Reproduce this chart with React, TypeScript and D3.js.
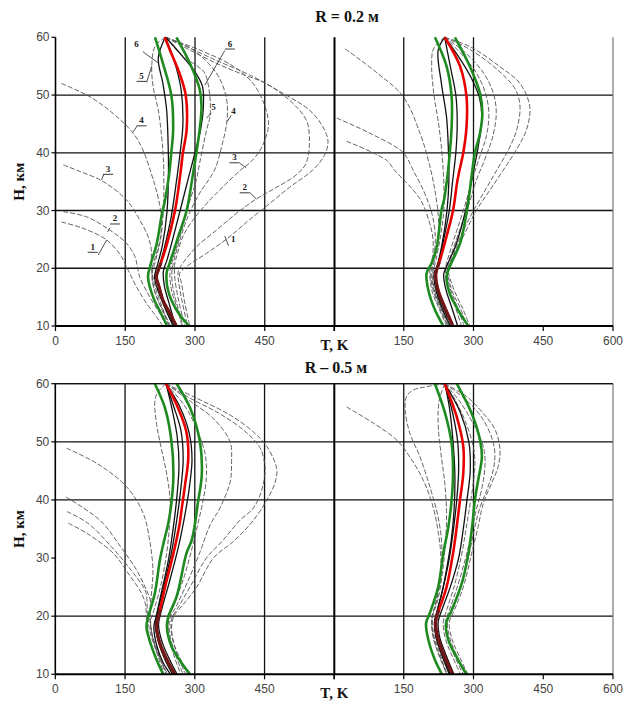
import React from "react";
import * as d3 from "d3";

type P = [number, number]; // [T (K), H (km)]

const xTicks = [0, 150, 300, 450, 600];
const yTicks = [10, 20, 30, 40, 50, 60];
const leftTickLabels = ["0", "150", "300", "450"];
const rightTickLabels = ["150", "300", "450", "600"];
const topHGrid = [20, 30, 40, 50];
const bottomHGrid = [20, 40, 50, 60];
const leftVGrid = [150, 300, 450];
const rightVGrid = [150, 300];
const titles = ["R = 0.2 м", "R – 0.5 м"];

// ---------- top-left (R = 0.2, case 1)
const tlRed: P[] = [[235,60],[246,57.8],[267,53.7],[280,50],[282,44],[274,40],[268,36],[257,30],[239,24],[224,20.3],[217,18.5],[222,17],[231,14.5],[246,12.2],[260,10]];
const tlGreenL: P[] = [[214,60],[231,55.5],[249,50],[253,44],[249,40],[244,36],[236,32],[228,29],[217,24],[204,20.5],[199,18.5],[210,15],[228,12],[240,10]];
const tlGreenR: P[] = [[260,60],[289,55.5],[310,51],[314,48],[310,44],[303,40],[295,36],[282,30],[264,25.5],[246,21],[239,19.2],[242,16.2],[260,12.8],[287,10]];
const tlBlack6L: P[] = [[236,60],[221,56.4],[231,52],[239,47.4],[242,42],[243,37],[240,30],[230,24],[219,20.5],[213,18.5],[221,16],[236,13],[253,10]];
const tlBlack6R: P[] = [[237,60],[270,57],[300,54],[316,51.5],[318,48],[312,44],[300,40],[287,36],[268,30],[252,25],[240,21.5],[232,19.5],[234,17],[244,14],[258,10]];
const tlBlackM: P[] = [[236,60],[255,56],[270,51],[274,45],[268,40],[260,35],[249,29],[234,23.5],[222,20],[218,18.5],[226,16],[239,13],[255,10]];
const tl1L: P[] = [[13,28],[60,26.9],[110,24.9],[142,22],[156,19.7],[174,16.8],[196,13.9],[217,11.6],[231,10]];
const tl2L: P[] = [[17,29.8],[67,28.9],[117,26.6],[153,24.3],[171,22],[176,20.3],[181,18.5],[203,15],[224,12.2],[239,10]];
const tl3L: P[] = [[17,37.9],[45,37],[103,35],[153,31.8],[181,28.4],[199,25.5],[206,23.2],[206,20.5],[212,17.5],[226,14],[245,10]];
const tl4L: P[] = [[13,52],[74,49.7],[124,46.8],[167,43.4],[188,40.5],[206,36.4],[215,34],[224,31],[228,28],[225,25],[215,22],[208,20],[208,18],[218,15],[235,12],[248,10]];
const tl5L: P[] = [[236,60],[214,58.4],[207,55],[210,51.4],[221,47.4],[228,43],[232,39],[233,35],[232,30],[226,25],[214,21],[208,19],[213,16],[228,13],[244,10]];
const tl1R: P[] = [[237,60],[274,58.7],[346,56],[417,53.5],[489,50.3],[546,47.4],[575,44.5],[586,42],[578,39.5],[553,37],[503,34],[453,30.7],[417,28.4],[375,25.5],[325,22.6],[282,20.3],[267,19.1],[271,17.4],[278,14],[289,10]];
const tl2R: P[] = [[237,60],[272,58.5],[346,55.5],[405,53.5],[453,52],[510,48.6],[539,45.7],[546,42.8],[539,38.2],[515,36],[475,34],[432,32],[389,29.5],[346,26.6],[303,23.7],[274,20.9],[264,19.5],[265,17.5],[273,14],[284,10]];
const tl3R: P[] = [[237,60],[310,57.8],[382,55],[425,52],[446,49],[457,46],[457,44],[439,40.3],[417,38.2],[398,37],[360,34.1],[325,31.2],[296,28.4],[274,25.5],[262,22.5],[256,20.5],[257,18],[266,14],[278,10]];
const tl4R: P[] = [[237,60],[296,57.8],[346,53.8],[367,49.7],[369,45.7],[357,41],[342,37],[310,33],[285,29],[268,25],[255,21.5],[250,19],[254,16],[264,13],[274,10]];
const tl5R: P[] = [[237,60],[270,57],[305,55],[321,53.8],[332,49.7],[332,46.2],[325,44],[310,38.2],[302,35],[289,31.7],[274,27.3],[262,24],[250,21],[246,19],[250,16],[262,13],[272,10]];

// curve-number labels of the top-left panel: text, label position, underline, leader
const tlLabelText = ["6", "5", "4", "3", "2", "1", "6", "5", "4", "3", "2", "1"];
const tlLabelPos: P[] = [[174,58.4],[185,52.8],[185,45.1],[113,36.7],[128,28.1],[80,23.2],[375,58.4],[340,47.4],[383,46.8],[385,38.7],[407,33.5],[382,24.6]];
const tlLabelUnder = [false, true, true, true, true, true, true, false, false, true, true, false];
const tlLeaderFrom: P[] = [[188,57.5],[196,52.2],[175,44.6],[104,36.3],[117,27.0],[92,22.3],[364,57.7],[335,46.9],[378,46.5],[396,38.2],[418,33.1],[364,25.6]];
const tlLeaderTo: P[] = [[220,55.6],[207,55],[167,43.6],[99,35.3],[112,26.3],[110,24.9],[321,51.7],[325,46],[369,45.4],[410,37.4],[432,32],[372,23.9]];

// ---------- top-right (R = 0.2, case 2)
const trRed: P[] = [[238,60],[271,55],[285,49.7],[285,44.5],[278,40],[270,37],[265,35],[256,30],[242,25.5],[228,21.4],[219,19],[224,16.2],[238,13.3],[256,10]];
const trGreenL: P[] = [[217,60],[242,55],[253,49.7],[253,44.5],[249,40],[244,36],[237,32],[231,30],[221,23.7],[210,20.9],[199,19.1],[203,16.2],[217,12.8],[235,10]];
const trGreenR: P[] = [[260,60],[292,55],[314,50.3],[319,46.8],[314,43.4],[303,40],[296,36],[286,30],[271,24.3],[249,20.3],[242,18.5],[249,15.6],[271,12.2],[289,10]];
const trBlackA: P[] = [[238,60],[224,57.8],[231,52],[242,46.2],[246,40.5],[247,35],[243,30],[232,24],[222,20.5],[215,19],[220,16],[233,13],[250,10]];
const trBlackB: P[] = [[238,60],[265,57],[295,53],[313,49.5],[318,46],[310,41],[298,36],[283,30],[262,24],[243,20.5],[236,19],[240,16.5],[252,13.5],[266,10]];
const trBlackC: P[] = [[238,60],[250,55],[262,50],[265,45],[262,40],[255,35],[248,30],[236,25],[225,21],[218,19],[222,16],[236,13],[254,10]];
const trDash0: P[] = [[238,60],[214,58],[210,55],[215,50],[225,45],[232,40],[236,35],[236,30],[228,25],[218,21],[212,19],[217,16],[231,13],[248,10]];
const trDashLA: P[] = [[24,58],[90,54],[149,49.7],[185,43.4],[205,38],[218,33],[225,28],[222,24],[215,21],[210,19],[216,16],[230,13],[246,10]];
const trDashLB: P[] = [[6,46],[77,43.4],[149,40],[170,37],[195,33],[212,29],[218,25],[214,21.5],[208,19],[214,16],[228,13],[244,10]];
const trDashLC: P[] = [[27,42],[113,38.7],[130,37],[185,32],[205,28],[213,25],[212,22],[206,19.5],[211,16],[226,13],[242,10]];
const trDashRA: P[] = [[238,60],[292,58.4],[357,54.9],[400,52],[421,48],[414,44],[392,40.5],[364,37],[335,33.5],[306,30],[278,25.5],[256,22],[246,19.8],[256,16.7],[278,12.8],[292,10]];
const trDashRB: P[] = [[238,60],[290,58],[350,54.5],[390,51],[400,48],[393,44],[375,40.5],[350,37],[325,33.5],[300,30],[275,26],[255,22],[245,20],[252,16.5],[272,13],[286,10]];
const trDashRC: P[] = [[238,60],[280,57.5],[320,54],[342,50.5],[349,47],[342,43],[325,39],[305,35],[290,31],[272,27],[255,23],[243,20],[248,17],[264,13.5],[280,10]];
const trDashRD: P[] = [[238,60],[275,57],[305,54],[325,50.5],[333,47],[328,43],[312,39],[296,35],[282,31],[266,27],[250,23],[240,20],[244,17],[258,14],[274,10]];

// ---------- bottom-left (R = 0.5, case 1)
const blRed: P[] = [[238,60],[264,55.8],[282,51.7],[286,47.2],[279,42.6],[272,38.6],[267,35.7],[254,30.8],[236,25],[225,21],[218,18.2],[225,15.3],[240,12.5],[257,10]];
const blGreenL: P[] = [[214,60],[236,55.8],[250,50],[254,44.3],[250,39.7],[243,36],[234,33],[225,29.7],[214,23.9],[200,19.9],[196,18.2],[207,14.8],[221,11.9],[232,10]];
const blGreenR: P[] = [[261,60],[290,55.8],[311,50],[315,44.3],[307,39.7],[300,35.7],[293,33],[282,30.8],[261,23.4],[243,19.9],[240,18.2],[250,14.8],[272,11.9],[290,10]];
const blBlackA: P[] = [[238,60],[255,56],[270,52],[275,47],[270,42],[262,37],[250,31],[233,25],[221,21],[215,18.5],[222,15.5],[236,12.5],[252,10]];
const blBlackB: P[] = [[238,60],[268,56],[288,51.5],[294,47],[288,42],[280,38],[265,32],[244,25.5],[230,21.5],[222,18.5],[230,15.5],[246,12.5],[262,10]];
const blBlackC: P[] = [[238,60],[250,56],[262,51],[266,46],[262,41],[255,36],[244,30],[228,24],[217,20],[212,18.2],[218,15],[232,12],[248,10]];
const blDash0: P[] = [[238,60],[220,58.5],[214,56.9],[218,53],[225,50],[240,44.3],[247,39.7],[245,35],[238,30],[226,25],[212,21],[205,19],[212,15.5],[226,12.5],[242,10]];
const blDashL1: P[] = [[24,48.9],[89,46.3],[153,42.3],[189,37.7],[203,33],[210,28],[208,25],[205,22],[204,19.5],[210,16],[224,13],[240,10]];
const blDashL2: P[] = [[23,40.5],[96,36.5],[140,32],[175,27.9],[196,24.5],[204,22.8],[203,20],[208,17],[222,13.5],[238,10]];
const blDashL3: P[] = [[25,38],[70,36],[120,32],[168,27.4],[193,24.5],[197,23],[198,20.5],[203,17.5],[217,14],[234,10]];
const blDashL4: P[] = [[28,36],[67,34.3],[125,30.8],[160,27],[185,24],[194,22],[196,19.5],[201,16.5],[215,13],[232,10]];
const blDashRA: P[] = [[238,60],[304,57.5],[376,54.6],[426,51.7],[455,49.2],[476,45.4],[473,43.1],[455,40],[426,36.5],[385,33],[340,30],[304,25],[275,22],[255,20],[250,18],[256,15],[270,12.5],[285,10]];
const blDashRB: P[] = [[238,60],[290,57.5],[350,55],[405,52],[440,49],[451,45.5],[445,42],[426,38.6],[397,36.5],[360,33],[325,30],[293,25.5],[268,22],[250,19.5],[250,17],[262,13.5],[280,10]];
const blDashRC: P[] = [[238,60],[290,57],[340,54],[376,50],[379,46.6],[376,43.1],[354,38.6],[333,35.7],[311,31],[285,26],[262,22],[246,19.5],[246,17],[258,13.5],[275,10]];
const blDashRD: P[] = [[238,60],[280,56],[305,52],[322,48],[325,44],[318,40],[307,36],[295,32],[278,27],[258,22.5],[244,19.5],[243,17],[254,13.5],[270,10]];

// ---------- bottom-right (R = 0.5, case 2)
const brRed: P[] = [[238,60],[264,54.3],[278,49.2],[278,44.6],[271,40],[264,35.4],[256,30.8],[242,25],[228,21.6],[219,19.3],[221,17],[235,13.6],[255,10]];
const brGreenL: P[] = [[217,60],[239,54.9],[253,49.7],[256,44.6],[253,40],[246,35.4],[235,30.8],[224,25],[206,20.5],[198,18.8],[203,15.9],[217,12.5],[232,10]];
const brGreenR: P[] = [[264,60],[296,54.9],[314,50.3],[318,47.4],[310,43.4],[303,40],[297,35.4],[289,30.8],[275,25.7],[253,21],[241,18.8],[246,15.9],[267,12.5],[285,10]];
const brBlackA: P[] = [[238,60],[255,55],[266,50],[268,45],[264,40],[257,35],[248,30],[235,25],[224,21.5],[217,19],[220,16.5],[233,13.5],[250,10]];
const brBlackB: P[] = [[238,60],[272,55],[290,50],[293,45],[286,40],[278,35],[268,30],[250,25],[234,21.5],[224,19],[227,16.5],[240,13.5],[258,10]];
const brBlackC: P[] = [[238,60],[248,56],[256,50],[260,44],[258,38],[252,33],[242,28],[232,24],[222,21],[216,19],[219,16.5],[231,13.5],[248,10]];
const brDash0: P[] = [[238,60],[226,57],[224,53],[230,48],[238,43],[242,38],[240,33],[234,28],[224,23],[212,20],[210,18.5],[214,16],[227,13],[243,10]];
const brDashFlat: P[] = [[240,60],[200,59.5],[170,58.9],[156,57.8],[153,55.5],[163,51.5],[185,47.4],[206,42.3],[224,37],[232,32],[230,27],[220,22.5],[212,20],[214,17],[226,14],[242,10]];
const brDashL: P[] = [[27,56],[85,53.2],[135,50.3],[163,47.4],[192,43.4],[213,38.8],[225,34],[230,30],[228,26],[218,22],[210,19.5],[214,16.5],[228,13],[244,10]];
const brDashRA: P[] = [[238,60],[285,57.8],[321,54.9],[347,52],[357,48.6],[353,45.7],[339,42.9],[321,39.4],[310,35.4],[296,30.8],[278,25],[256,20.5],[248,19],[254,16],[270,13],[288,10]];
const brDashRB: P[] = [[238,60],[280,57.5],[315,54.5],[338,51],[346,48],[342,45],[330,42],[313,38.5],[302,35],[290,30.5],[272,25],[252,20.5],[244,19],[250,16],[265,13],[282,10]];
const brDashRC: P[] = [[238,60],[270,57],[300,53],[320,49.5],[325,46.5],[318,42],[305,38],[295,34],[283,30],[265,25],[248,21],[240,19],[246,16],[260,13],[278,10]];
const brDashRD: P[] = [[238,60],[262,57],[285,53],[300,49],[303,46],[298,42],[290,38],[282,34],[273,30],[258,25],[242,21],[235,19],[240,16],[255,13],[272,10]];

type PanelCfg = {
  key: string; x0: number; x1: number; yTop: number; yBot: number;
  hGrid: number[]; vGrid: number[]; side: "left" | "right"; topBorder: boolean;
  red: P[]; greens: P[][]; blacks: P[][]; dashes: P[][];
};

const panels: PanelCfg[] = [
  { key: "tl", x0: 55.5, x1: 334.5, yTop: 37.3, yBot: 326, hGrid: topHGrid, vGrid: leftVGrid, side: "left", topBorder: false,
    red: tlRed, greens: [tlGreenL, tlGreenR], blacks: [tlBlack6L, tlBlack6R, tlBlackM],
    dashes: [tl1L, tl2L, tl3L, tl4L, tl5L, tl1R, tl2R, tl3R, tl4R, tl5R] },
  { key: "tr", x0: 334, x1: 613, yTop: 37.3, yBot: 326, hGrid: topHGrid, vGrid: rightVGrid, side: "right", topBorder: false,
    red: trRed, greens: [trGreenL, trGreenR], blacks: [trBlackA, trBlackB, trBlackC],
    dashes: [trDash0, trDashLA, trDashLB, trDashLC, trDashRA, trDashRB, trDashRC, trDashRD] },
  { key: "bl", x0: 55.3, x1: 334.3, yTop: 383.7, yBot: 674.3, hGrid: bottomHGrid, vGrid: leftVGrid, side: "left", topBorder: true,
    red: blRed, greens: [blGreenL, blGreenR], blacks: [blBlackA, blBlackB, blBlackC],
    dashes: [blDash0, blDashL1, blDashL2, blDashL3, blDashL4, blDashRA, blDashRB, blDashRC, blDashRD] },
  { key: "br", x0: 334, x1: 613, yTop: 383.7, yBot: 674.3, hGrid: bottomHGrid, vGrid: rightVGrid, side: "right", topBorder: true,
    red: brRed, greens: [brGreenL, brGreenR], blacks: [brBlackA, brBlackB, brBlackC],
    dashes: [brDash0, brDashFlat, brDashL, brDashRA, brDashRB, brDashRC, brDashRD] },
];

const SERIF = "'Liberation Serif', 'DejaVu Serif', serif";
const SANS = "'Liberation Sans', Arial, sans-serif";

function Panel({ cfg }: { cfg: PanelCfg }) {
  const x = d3.scaleLinear().domain([0, 600]).range([cfg.x0, cfg.x1]);
  const y = d3.scaleLinear().domain([10, 60]).range([cfg.yBot, cfg.yTop]);
  const line = d3.line<P>().x((d) => x(d[0])).y((d) => y(d[1])).curve(d3.curveCatmullRom.alpha(0.5));
  const clipId = `low-${cfg.key}`;
  const labels = cfg.side === "left" ? leftTickLabels : rightTickLabels;
  const labelTicks = cfg.side === "left" ? xTicks.slice(0, 4) : xTicks.slice(1);
  return (
    <g>
      <defs>
        <clipPath id={clipId}>
          <rect x={cfg.x0} y={y(21)} width={cfg.x1 - cfg.x0} height={cfg.yBot - y(21)} />
        </clipPath>
      </defs>
      {/* grid */}
      {cfg.hGrid.map((h) => (
        <line key={"h" + h} x1={cfg.x0} x2={cfg.x1} y1={y(h)} y2={y(h)} stroke="#111" strokeWidth={1.3} />
      ))}
      {cfg.vGrid.map((t) => (
        <line key={"v" + t} x1={x(t)} x2={x(t)} y1={cfg.yTop} y2={cfg.yBot} stroke="#111" strokeWidth={1.3} />
      ))}
      {cfg.side === "left" ? (
        <line x1={x(600)} x2={x(600)} y1={cfg.yTop} y2={cfg.yBot} stroke="#000" strokeWidth={2} />
      ) : (
        <line x1={x(600)} x2={x(600)} y1={cfg.yTop} y2={cfg.yBot} stroke="#777" strokeWidth={1.2} />
      )}
      {/* curves */}
      {cfg.dashes.map((c, i) => (
        <path key={"d" + i} d={line(c) || ""} fill="none" stroke="#555" strokeWidth={0.9} strokeDasharray="5,2" />
      ))}
      {cfg.blacks.map((c, i) => (
        <path key={"b" + i} d={line(c) || ""} fill="none" stroke="#111" strokeWidth={1.3} />
      ))}
      {cfg.greens.map((c, i) => (
        <path key={"g" + i} d={line(c) || ""} fill="none" stroke="#1f8a22" strokeWidth={2.6} />
      ))}
      <path d={line(cfg.red) || ""} fill="none" stroke="#e80000" strokeWidth={2.6} />
      <path d={line(cfg.red) || ""} fill="none" stroke="#701818" strokeWidth={3} clipPath={`url(#${clipId})`} />
      {/* x axis */}
      <line x1={cfg.x0} x2={cfg.x1} y1={cfg.yBot} y2={cfg.yBot} stroke="#000" strokeWidth={2} />
      {xTicks.map((t) => (
        <line key={"xt" + t} x1={x(t)} x2={x(t)} y1={cfg.yBot} y2={cfg.yBot + 5} stroke="#000" strokeWidth={1.2} />
      ))}
      {labelTicks.map((t, i) => (
        <text key={"xl" + t} x={x(t)} y={cfg.yBot + 19} textAnchor="middle" fontFamily={SANS} fontSize={12} fill="#444">
          {labels[i]}
        </text>
      ))}
      <text x={x(600)} y={cfg.yBot + 24} textAnchor="middle" fontFamily={SERIF} fontWeight="bold" fontSize={15} fill="#111">
        {cfg.side === "left" ? "T, K" : ""}
      </text>
      {/* y axis */}
      {cfg.side === "left" && (
        <g>
          <line x1={cfg.x0} x2={cfg.x0} y1={cfg.yTop} y2={cfg.yBot} stroke="#000" strokeWidth={1.6} />
          {yTicks.map((h) => (
            <g key={"yt" + h}>
              <line x1={cfg.x0 - 4} x2={cfg.x0} y1={y(h)} y2={y(h)} stroke="#000" strokeWidth={1.2} />
              <text x={cfg.x0 - 6} y={y(h) + 4} textAnchor="end" fontFamily={SANS} fontSize={12} fill="#444">
                {h}
              </text>
            </g>
          ))}
          <text
            transform={`translate(${24},${(cfg.yTop + cfg.yBot) / 2}) rotate(-90)`}
            textAnchor="middle" fontFamily={SERIF} fontWeight="bold" fontSize={15} fill="#111"
          >
            H, км
          </text>
        </g>
      )}
      {cfg.topBorder && (
        <line x1={cfg.x0} x2={cfg.x1} y1={cfg.yTop} y2={cfg.yTop} stroke="#111" strokeWidth={1.3} />
      )}
      {cfg.key === "tl" && (
        <g>
          {tlLabelText.map((t, i) => {
            const lx = x(tlLabelPos[i][0]);
            const ly = y(tlLabelPos[i][1]);
            return (
              <g key={"lab" + i}>
                <text x={lx} y={ly} textAnchor="middle" fontFamily={SERIF} fontWeight="bold" fontSize={9} fill="#222">
                  {t}
                </text>
                {tlLabelUnder[i] && (
                  <line x1={lx - 5} x2={lx + 5} y1={ly + 2.5} y2={ly + 2.5} stroke="#222" strokeWidth={0.9} />
                )}
                <line
                  x1={x(tlLeaderFrom[i][0])} y1={y(tlLeaderFrom[i][1])}
                  x2={x(tlLeaderTo[i][0])} y2={y(tlLeaderTo[i][1])}
                  stroke="#222" strokeWidth={0.8}
                />
              </g>
            );
          })}
        </g>
      )}
    </g>
  );
}

export default function App() {
  return (
    <svg width={624} height={708} style={{ position: "absolute", left: 0, top: 0, background: "#fff" }}>
      <rect x={0} y={0} width={624} height={708} fill="#fff" />
      <text x={347} y={22} textAnchor="middle" fontFamily={SERIF} fontWeight="bold" fontSize={16} fill="#111">
        {titles[0]}
      </text>
      <text x={336} y={373} textAnchor="middle" fontFamily={SERIF} fontWeight="bold" fontSize={16} fill="#111">
        {titles[1]}
      </text>
      {panels.map((p) => (
        <Panel key={p.key} cfg={p} />
      ))}
    </svg>
  );
}
